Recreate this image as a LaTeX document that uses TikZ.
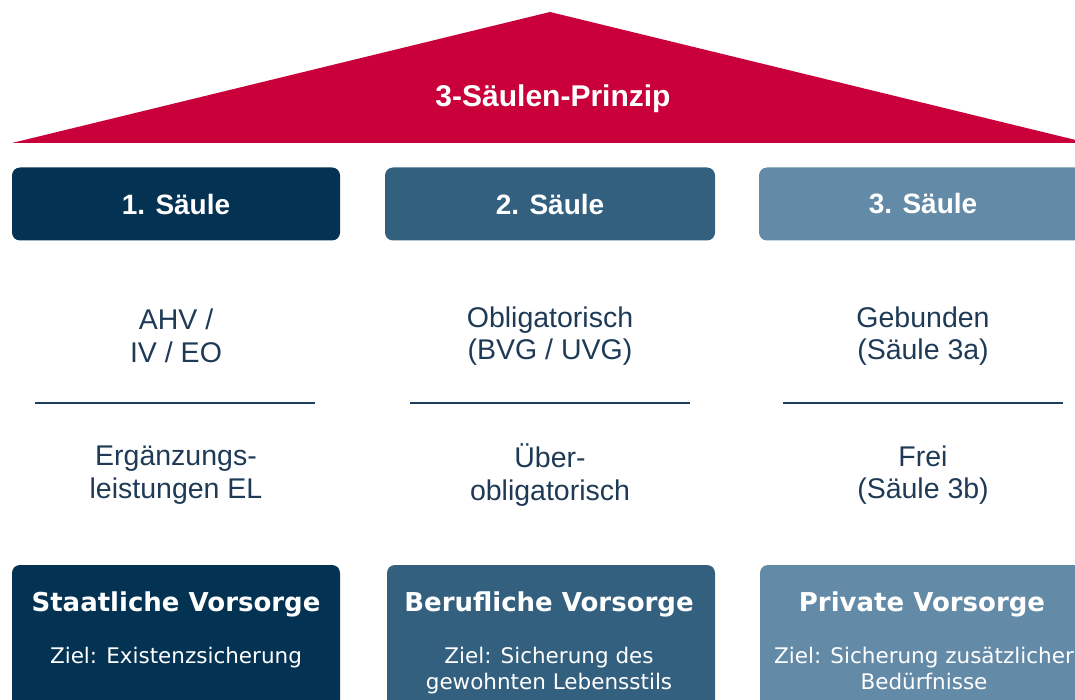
\documentclass[tikz,border=0pt]{standalone}
\usepackage{fontspec}
\setmainfont{Liberation Sans}
\newfontfamily\verd{DejaVu Sans}
\definecolor{roofred}{RGB}{201,0,58}
\definecolor{colA}{RGB}{3,50,82}
\definecolor{colB}{RGB}{52,96,128}
\definecolor{colC}{RGB}{99,138,167}
\definecolor{midtext}{RGB}{30,58,86}
\definecolor{sepline}{RGB}{30,62,94}
\begin{document}
\begin{tikzpicture}[x=1pt,y=-1pt,
  pillar/.style={rounded corners=8pt, minimum width=328pt, minimum height=73pt, inner sep=0pt, text=white, font=\fontsize{28}{32}\selectfont\bfseries},
  basebox/.style={rounded corners=8pt, minimum width=328pt, minimum height=150pt, inner sep=0pt},
  midtxt/.style={align=center, text=midtext, font=\fontsize{28.5}{32.5}\selectfont},
  btitle/.style={text=white, font=\verd\fontsize{26}{30}\selectfont\bfseries},
  bziel/.style={text=white, align=center, anchor=north, inner sep=0pt, font=\verd\fontsize{21.5}{26}\selectfont},
  sep/.style={draw=sepline, line width=2pt}]
\useasboundingbox (0,0) rectangle (1075,700);
\clip (0,0) rectangle (1075,700);
% roof
\fill[roofred] (550,12) -- (1088,143) -- (12,143) -- cycle;
\node[text=white, font=\fontsize{30}{34}\selectfont\bfseries] (roof) at (553,99) {3-Säulen-Prinzip};
% pillar heads
\node[pillar, fill=colA] (p1) at (176,204) {1. Säule};
\node[pillar, fill=colB, minimum width=330pt] (p2) at (550,204) {2. Säule};
\node[pillar, fill=colC] (p3) at (923,204) {3. Säule};
% middle texts
\node[midtxt] (m1) at (176,336) {AHV /\\IV / EO};
\node[midtxt] (m2) at (550,336) {Obligatorisch\\(BVG / UVG)};
\node[midtxt] (m3) at (923,336) {Gebunden\\(Säule 3a)};
\draw[sep] (35,403) -- (315,403);
\draw[sep] (410,403) -- (690,403);
\draw[sep] (783,403) -- (1063,403);
\node[midtxt] (n1) at (176,475) {Ergänzungs-\\leistungen EL};
\node[midtxt] (n2) at (550,475) {Über-\\obligatorisch};
\node[midtxt] (n3) at (923,475) {Frei\\(Säule 3b)};
% bases
\node[basebox, fill=colA] (b1) at (176,640) {};
\node[basebox, fill=colB] (b2) at (551,640) {};
\node[basebox, fill=colC] (b3) at (924,640) {};
\node[btitle] (t1) at (176,604) {Staatliche Vorsorge};
\node[btitle] (t2) at (549,604) {Berufliche Vorsorge};
\node[btitle] (t3) at (922,604) {Private Vorsorge};
\node[bziel] (z1) at (176,647) {Ziel: Existenzsicherung};
\node[bziel] (z2) at (549,647) {Ziel: Sicherung des\\gewohnten Lebensstils};
\node[bziel] (z3) at (924,647) {Ziel: Sicherung zusätzlicher\\Bedürfnisse};
\end{tikzpicture}
\end{document}
